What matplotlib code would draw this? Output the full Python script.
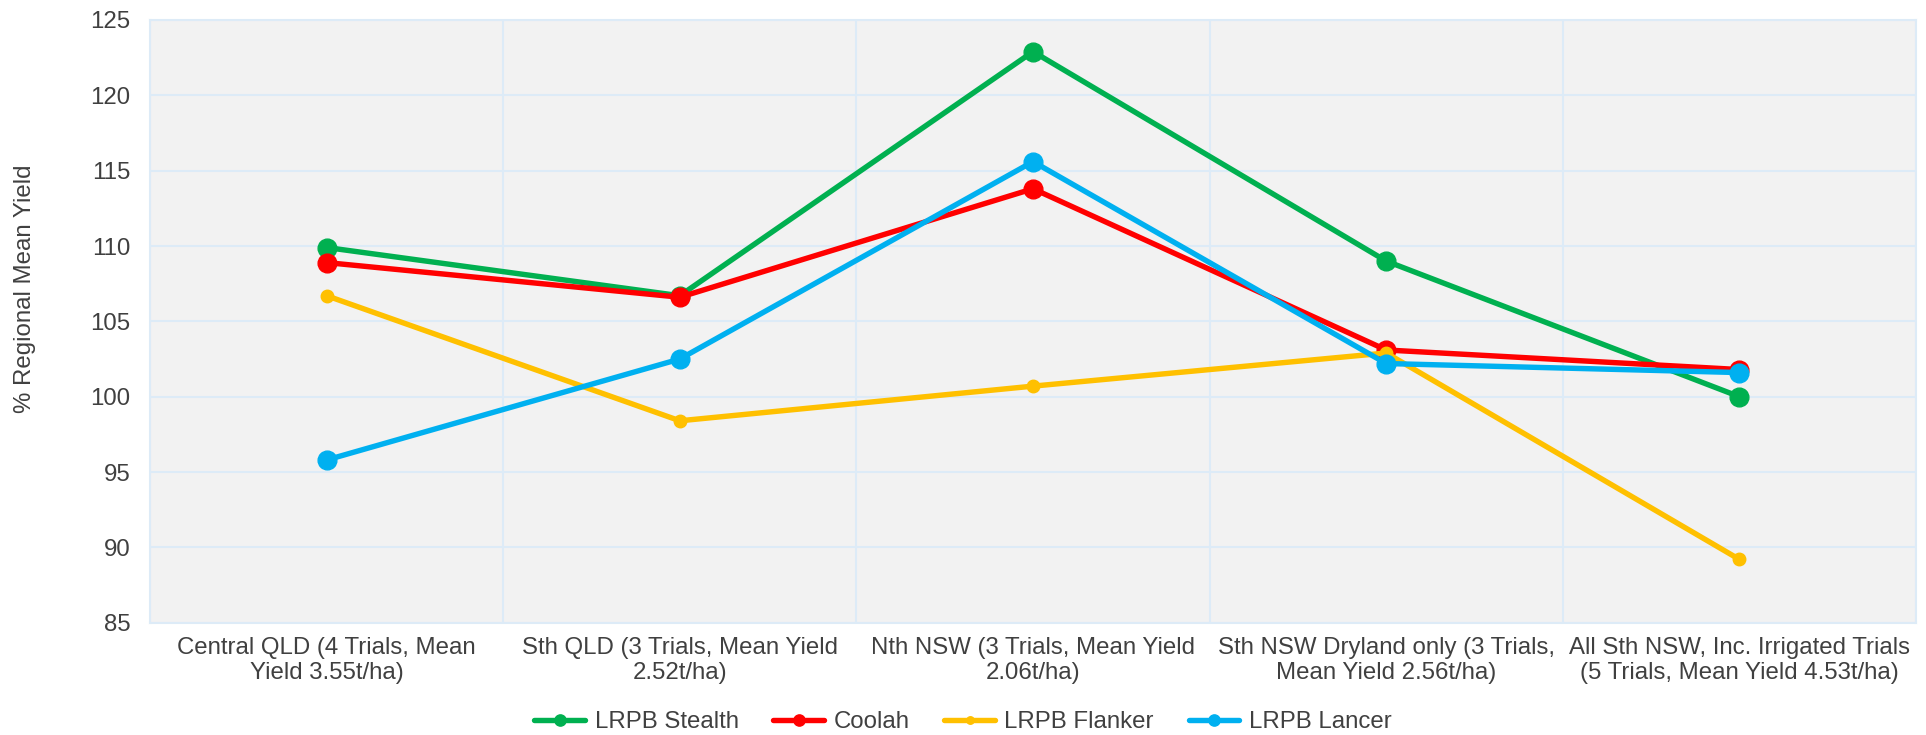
import numpy as np
import matplotlib.pyplot as plt

# Category labels (regions)
regions = [
    'Central QLD (4 Trials, Mean\nYield 3.55t/ha)',
    'Sth QLD (3 Trials, Mean Yield\n2.52t/ha)',
    'Nth NSW (3 Trials, Mean Yield\n2.06t/ha)',
    'Sth NSW Dryland only (3 Trials,\nMean Yield 2.56t/ha)',
    'All Sth NSW, Inc. Irrigated Trials\n(5 Trials, Mean Yield 4.53t/ha)',
]

# % regional mean yield per variety
stealth = [109.9, 106.7, 122.9, 109.0, 100.0]
coolah = [108.9, 106.6, 113.8, 103.1, 101.8]
flanker = [106.7, 98.4, 100.7, 102.9, 89.2]
lancer = [95.8, 102.5, 115.6, 102.2, 101.6]

yticks = [85, 90, 95, 100, 105, 110, 115, 120, 125]

plt.rcParams['font.family'] = ['Liberation Sans', 'DejaVu Sans']
text_col = '#404040'
grid_col = '#DDEBF7'
fs = 17.3

fig = plt.figure(figsize=(19.26, 7.35), dpi=100)
ax = fig.add_axes([0.0779, 0.1528, 0.9169, 0.8200])
ax.set_facecolor('#F2F2F2')

x = np.arange(len(regions))
series = [
    ('LRPB Stealth', stealth, '#00B050', 13.5),
    ('Coolah', coolah, '#FF0000', 13.5),
    ('LRPB Flanker', flanker, '#FFC000', 9),
    ('LRPB Lancer', lancer, '#00B0F0', 13.5),
]
for name, vals, col, ms in series:
    ax.plot(x, vals, color=col, lw=3.9, marker='o', ms=ms, label=name,
            solid_capstyle='round')

ax.set_xlim(-0.5, len(regions) - 0.5)
ax.set_ylim(85, 125)
ax.set_yticks(yticks)
ax.set_xticks(x)
ax.set_xticklabels(regions)
ax.set_xticks(np.arange(len(regions) + 1) - 0.5, minor=True)
ax.tick_params(axis='both', which='both', length=0, labelsize=fs,
               labelcolor=text_col)
ax.tick_params(axis='y', pad=14)
ax.tick_params(axis='x', pad=10)
ax.grid(axis='y', which='major', color=grid_col, lw=1.5)
ax.grid(axis='x', which='minor', color=grid_col, lw=1.5)
ax.set_axisbelow(True)
for s in ax.spines.values():
    s.set_color(grid_col)
    s.set_linewidth(1.5)

fig.text(0.013, 1 - 289 / 735, '% Regional Mean Yield', rotation=90,
         va='center', ha='center', fontsize=fs, color=text_col)

leg = fig.legend(loc='center', bbox_to_anchor=(0.5, 1 - 722 / 735), ncol=4,
                 frameon=False, fontsize=fs, handlelength=2.1,
                 handletextpad=0.4, columnspacing=1.45, markerscale=0.6)
for t in leg.get_texts():
    t.set_color(text_col)

fig.savefig('out.png', dpi=100)
